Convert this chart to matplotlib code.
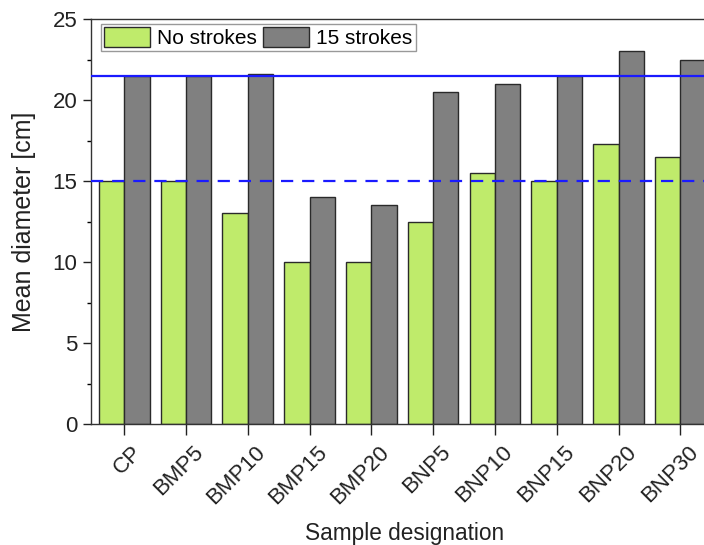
import numpy as np
import matplotlib.pyplot as plt
import matplotlib.transforms as mtransforms
from matplotlib.ticker import MultipleLocator

plt.rcParams['font.family'] = ['Liberation Sans', 'DejaVu Sans']

samples = ['CP', 'BMP5', 'BMP10', 'BMP15', 'BMP20', 'BNP5', 'BNP10', 'BNP15', 'BNP20', 'BNP30']
no_strokes = [15, 15, 13, 10, 10, 12.5, 15.5, 15, 17.3, 16.5]
strokes_15 = [21.5, 21.5, 21.6, 14, 13.5, 20.5, 21, 21.5, 23, 22.5]
ref_solid = 21.5
ref_dashed = 15

fig = plt.figure(figsize=(7.04, 5.45), dpi=100)
# axes runs past the right edge of the figure, as in the cropped original
ax = fig.add_axes([0.129, 0.222, 0.89, 0.743])

x = np.arange(len(samples))
w = 0.41
ax.bar(x - w / 2, no_strokes, w, color='#bfeb6b', edgecolor='#2a2a2a', linewidth=1, label='No strokes', zorder=2)
ax.bar(x + w / 2, strokes_15, w, color='#808080', edgecolor='#2a2a2a', linewidth=1, label='15 strokes', zorder=2)

ax.axhline(ref_solid, color='#1a1aff', lw=1.6, zorder=3)
ax.axhline(ref_dashed, color='#1a1aff', lw=1.6, ls=(0, (5.5, 4)), zorder=3)

ax.set_xlim(-0.54, 9.6)
ax.set_ylim(0, 25)
ax.set_xticks(x)
ax.set_xticklabels(samples, rotation=45, ha='right', va='center', rotation_mode='anchor')

ax.yaxis.set_major_locator(MultipleLocator(5))
ax.yaxis.set_minor_locator(MultipleLocator(2.5))
ax.tick_params(axis='both', which='major', direction='out', width=1, labelsize=16, colors='#222222')
ax.tick_params(axis='y', which='major', length=6)
ax.tick_params(axis='x', which='major', length=8, pad=0)
ax.tick_params(axis='y', which='minor', direction='out', length=3, width=1)

# shift the rotated labels down-right like the original (after tick_params, which resets transforms)
offset = mtransforms.ScaledTranslation(0.145, -0.14, fig.dpi_scale_trans)
for lab in ax.get_xticklabels():
    lab.set_transform(lab.get_transform() + offset)

for s in ax.spines.values():
    s.set_color('#333333')
    s.set_linewidth(1)

ax.set_ylabel('Mean diameter [cm]', fontsize=18, color='#222222', labelpad=12)
ax.set_xlabel('Sample designation', fontsize=16.3, color='#222222')
ax.xaxis.set_label_coords(0.5, -0.241)

leg = ax.legend(loc='upper left', ncol=2, fontsize=15, fancybox=False, framealpha=1,
                edgecolor='#999999', handlelength=2.2, handleheight=1.1,
                columnspacing=0.33, handletextpad=0.33, borderpad=0.15,
                borderaxespad=0, bbox_to_anchor=(0.016, 0.988))
leg.get_frame().set_linewidth(1)

fig.savefig('out.png', dpi=100)
